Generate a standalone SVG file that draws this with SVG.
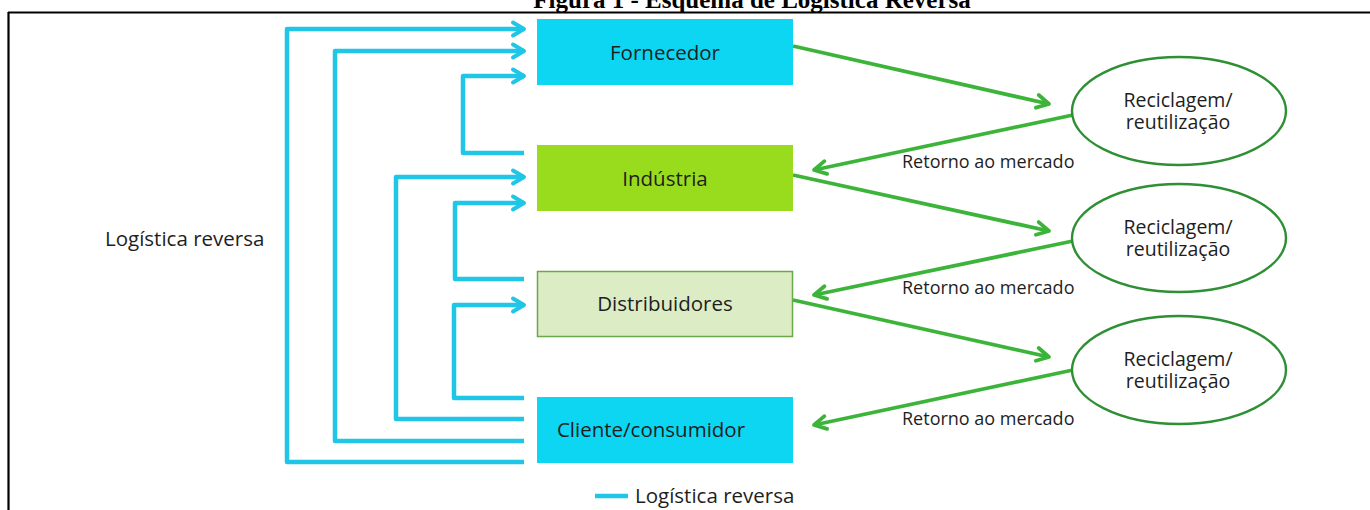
<svg xmlns="http://www.w3.org/2000/svg" width="1370" height="510" viewBox="0 0 1370 510">
  <style>
    .lbl { font-family: "Open Sans", "Noto Sans", "DejaVu Sans", sans-serif; font-size: 20.5px; fill: #1e1e1e; }
    .el { font-family: "Open Sans", "Noto Sans", "DejaVu Sans", sans-serif; font-size: 19.5px; fill: #1e1e1e; }
    .small { font-family: "Open Sans", "Noto Sans", "DejaVu Sans", sans-serif; font-size: 18px; fill: #1e1e1e; }
    .cy { fill: none; stroke: #1fc6e6; stroke-width: 4.5; stroke-linejoin: round; }
    .gr { fill: none; stroke: #3cb43a; stroke-width: 3.8; }
    .ell { fill: #ffffff; stroke: #2e8f34; stroke-width: 2.4; }
  </style>
  <defs>
    <marker id="ac" markerUnits="userSpaceOnUse" viewBox="0 0 20 20" refX="16" refY="10" markerWidth="20" markerHeight="20" orient="auto">
      <path d="M5,3.5 L16,10 L5,16.5" fill="none" stroke="#1fc6e6" stroke-width="4" stroke-linejoin="round" stroke-linecap="round"/>
    </marker>
    <marker id="ag" markerUnits="userSpaceOnUse" viewBox="0 0 20 20" refX="16" refY="10" markerWidth="20" markerHeight="20" orient="auto">
      <path d="M4,3.5 L16,10 L4,16.5" fill="none" stroke="#3cb43a" stroke-width="3.8" stroke-linejoin="round" stroke-linecap="round"/>
    </marker>
  </defs>
  <rect x="0" y="0" width="1370" height="510" fill="#ffffff"/>

  <g id="frame">
    <text x="752" y="8" text-anchor="middle" font-family="Liberation Serif, serif" font-weight="bold" font-size="25" fill="#000">Figura 1 - Esquema de Logística Reversa</text>
    <path d="M8,12.5 H1370 M8.5,12 V510" stroke="#000" stroke-width="2.2" fill="none"/>
  </g>

  <g id="connectors">
    <polyline class="cy" points="524,462 287,462 287,29 524,29" marker-end="url(#ac)"/>
    <polyline class="cy" points="524,441 335,441 335,51 524,51" marker-end="url(#ac)"/>
    <polyline class="cy" points="524,153 463,153 463,76 524,76" marker-end="url(#ac)"/>
    <polyline class="cy" points="524,419 396,419 396,177 524,177" marker-end="url(#ac)"/>
    <polyline class="cy" points="524,279 455,279 455,203 524,203" marker-end="url(#ac)"/>
    <polyline class="cy" points="524,398 454,398 454,305 524,305" marker-end="url(#ac)"/>

    <line class="gr" x1="793" y1="46" x2="1049" y2="104" marker-end="url(#ag)"/>
    <line class="gr" x1="1073" y1="115" x2="814" y2="170" marker-end="url(#ag)"/>
    <line class="gr" x1="793" y1="175" x2="1049" y2="231" marker-end="url(#ag)"/>
    <line class="gr" x1="1073" y1="241" x2="814" y2="295" marker-end="url(#ag)"/>
    <line class="gr" x1="793" y1="300" x2="1049" y2="357" marker-end="url(#ag)"/>
    <line class="gr" x1="1073" y1="370" x2="814" y2="425" marker-end="url(#ag)"/>
  </g>

  <g id="fornecedor">
    <rect x="537" y="19" width="256" height="66" fill="#0cd6f2"/>
    <text class="lbl" x="665" y="60" text-anchor="middle">Fornecedor</text>
  </g>
  <g id="industria">
    <rect x="537" y="145" width="256" height="66" fill="#99dc1e"/>
    <text class="lbl" x="665" y="186" text-anchor="middle">Indústria</text>
  </g>
  <g id="distribuidores">
    <rect x="537.5" y="271.5" width="255" height="65" fill="#dcedc6" stroke="#6aa84a" stroke-width="1.5"/>
    <text class="lbl" x="665" y="311" text-anchor="middle">Distribuidores</text>
  </g>
  <g id="cliente">
    <rect x="537" y="397" width="256" height="66" fill="#0cd6f2"/>
    <text class="lbl" x="651" y="437" text-anchor="middle">Cliente/consumidor</text>
  </g>

  <g id="reciclagem1">
    <ellipse class="ell" cx="1179" cy="111" rx="107" ry="54"/>
    <text class="el" text-anchor="middle"><tspan x="1178" y="107">Reciclagem/</tspan><tspan x="1178" y="129">reutilização</tspan></text>
  </g>
  <g id="reciclagem2">
    <ellipse class="ell" cx="1179" cy="238" rx="107" ry="54"/>
    <text class="el" text-anchor="middle"><tspan x="1178" y="234">Reciclagem/</tspan><tspan x="1178" y="256">reutilização</tspan></text>
  </g>
  <g id="reciclagem3">
    <ellipse class="ell" cx="1179" cy="370" rx="107" ry="54"/>
    <text class="el" text-anchor="middle"><tspan x="1178" y="366">Reciclagem/</tspan><tspan x="1178" y="388">reutilização</tspan></text>
  </g>

  <g id="labels">
    <text class="small" x="902" y="168">Retorno ao mercado</text>
    <text class="small" x="902" y="294">Retorno ao mercado</text>
    <text class="small" x="902" y="425">Retorno ao mercado</text>
    <text class="lbl" x="105" y="246">Logística reversa</text>
  </g>

  <g id="legend">
    <line x1="595" y1="496" x2="628" y2="496" stroke="#1fc6e6" stroke-width="4.5"/>
    <text class="lbl" x="635" y="503">Logística reversa</text>
  </g>
</svg>
